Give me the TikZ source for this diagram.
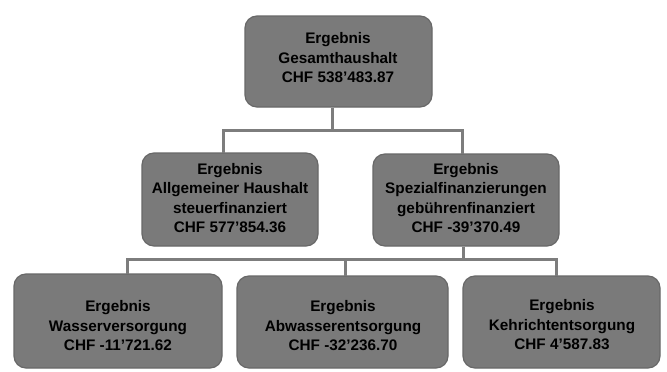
\documentclass[tikz,border=0pt]{standalone}
\usepackage{fontspec}
\setmainfont{Liberation Sans}
\definecolor{boxfill}{HTML}{7A7A7A}
\definecolor{boxline}{HTML}{686868}
\definecolor{conn}{HTML}{7D7D7D}
\begin{document}
\begin{tikzpicture}[x=1pt,y=-1pt,
  box/.style={draw=boxline,line width=1.2pt,fill=boxfill,rounded corners=12pt},
  lbl/.style={align=center,font=\bfseries\fontsize{15.3}{19.5}\selectfont,text=black,inner sep=0pt},
  link/.style={draw=conn,line width=3pt}]
\useasboundingbox[fill=white] (0,0) rectangle (667,372);
% boxes
\draw[box] (245,16) rectangle (432,107);
\draw[box] (142,153) rectangle (318,246);
\draw[box] (373,154) rectangle (559,246);
\draw[box] (14,274) rectangle (222,368);
\draw[box] (237,276) rectangle (448,368);
\draw[box] (463,276) rectangle (660,368);
% labels
\node[lbl] (top) at (338,58) {Ergebnis\\Gesamthaushalt\\CHF 538’483.87};
\node[lbl] (ml) at (230,198) {Ergebnis\\Allgemeiner Haushalt\\steuerfinanziert\\CHF 577’854.36};
\node[lbl] (mr) at (466,198) {Ergebnis\\Spezialfinanzierungen\\gebührenfinanziert\\CHF -39’370.49};
\node[lbl] (bl) at (118,326) {Ergebnis\\Wasserversorgung\\CHF -11’721.62};
\node[lbl] (bm) at (343,326) {Ergebnis\\Abwasserentsorgung\\CHF -32’236.70};
\node[lbl] (br) at (562,325) {Ergebnis\\Kehrichtentsorgung\\CHF 4’587.83};
% connectors
\coordinate (t1) at (332,107.5);
\coordinate (j1) at (332,130);
\coordinate (l1) at (223,130);
\coordinate (r1) at (462,130);
\coordinate (l1b) at (223,153);
\coordinate (r1b) at (462,154);
\draw[link] (t1) -- (j1);
\draw[link] (l1b) -- (l1) -- (r1) -- (r1b);
\coordinate (t2) at (463,246.5);
\coordinate (j2) at (463,259);
\coordinate (a2) at (127,259);
\coordinate (b2) at (345,259);
\coordinate (c2) at (556,259);
\draw[link] (t2) -- (j2);
\draw[link] (127,274) -- (a2) -- (c2) -- (556,276);
\draw[link] (b2) -- (345,276);
\end{tikzpicture}
\end{document}
